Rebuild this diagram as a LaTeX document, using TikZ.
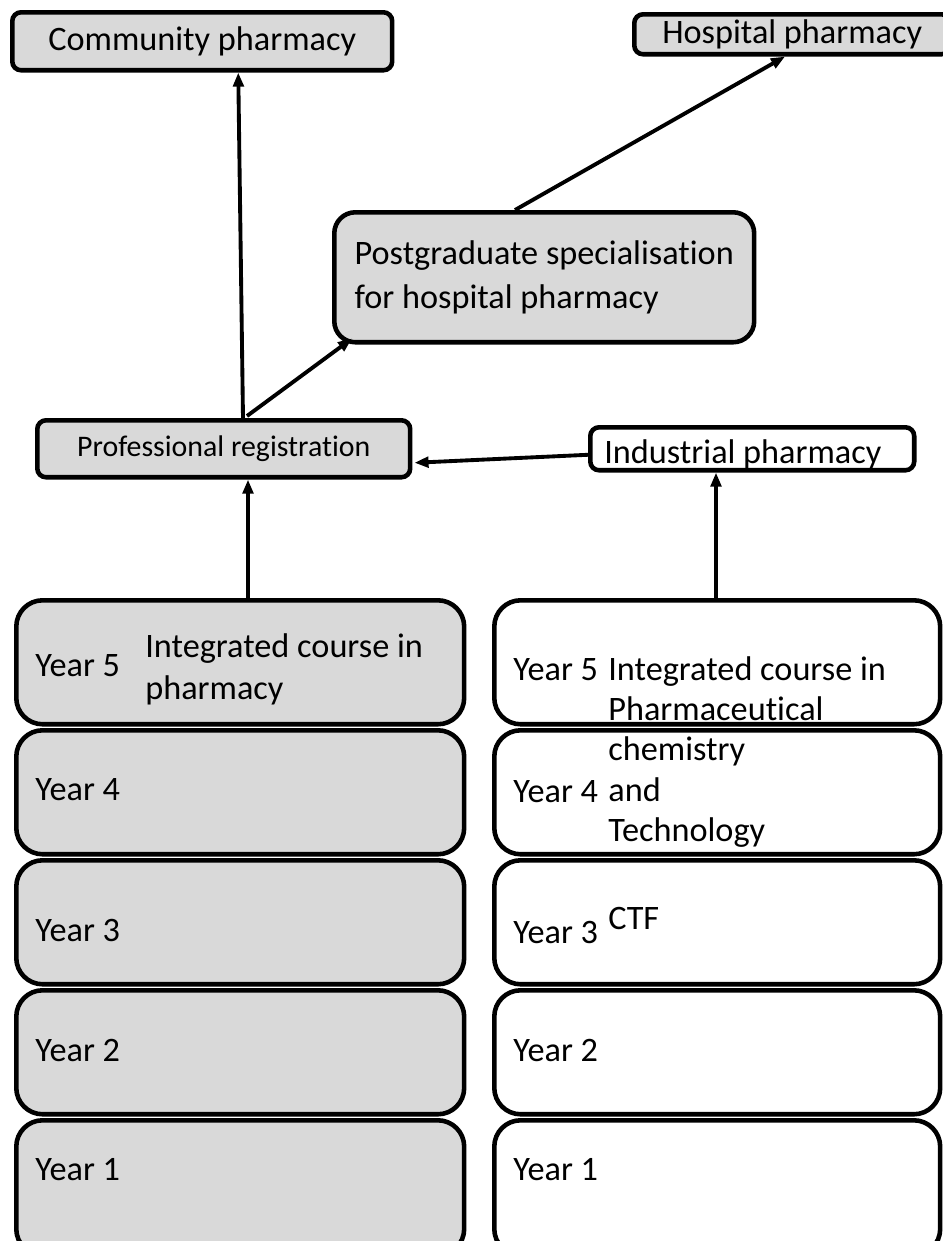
\documentclass[tikz,border=0pt]{standalone}
\usepackage{fontspec}
\setmainfont[RawFeature=-liga]{Carlito}
\usetikzlibrary{%
  positioning,
  calc,
  arrows.meta,
}

\begin{document}
\begin{tikzpicture}[%
           x=0.02cm, y=-0.02cm,
           font=\fontsize{19.5}{23.8}\selectfont,
           stage/.style={
             % The shape:
             rectangle,
             rounded corners=5pt,
             inner sep=0pt,
             anchor=north west,
             % The border:
             line width=2.6pt,
             draw=black,
             % The filling:
             fill=black!15,
           },
           year/.style={
             stage,
             rounded corners=15pt,
             minimum height=2.48cm,
           },
           plain/.style={
             fill=white,
           },
           label/.style={
             anchor=west,
             inner sep=0pt,
             align=left,
           },
           link/.style={
             ->,
             >={Triangle[length=8pt,width=6pt]},
             line width=2.2pt,
           }]
         \useasboundingbox[fill=white] (0,0) rectangle (943,1241);

         % careers and registration
         \node[stage, minimum width=7.6cm, minimum height=1.16cm] (comm) at (10,10) {Community pharmacy};
         \node[stage, minimum width=6.32cm, minimum height=0.8cm] (hosp) at (632,12) {Hospital pharmacy};
         \node[stage, rounded corners=12pt, minimum width=8.4cm, minimum height=2.6cm,
               align=left, font=\fontsize{19.5}{25.5}\selectfont] (pg) at (332,210)
               {Postgraduate specialisation\\for hospital pharmacy};
         \node[stage, minimum width=7.46cm, minimum height=1.14cm,
               font=\fontsize{17}{20}\selectfont] (reg) at (35,418) {Professional registration};
         \node[stage, plain, minimum width=6.48cm, minimum height=0.86cm] (ind) at (588,425) {};
         \node[label] (indtxt) at (604,454) {Industrial pharmacy};

         % pharmacy course
         \node[year, minimum width=8.96cm] (l5) at (14,598) {};
         \node[year, minimum width=8.96cm] (l4) at (14,728) {};
         \node[year, minimum width=8.96cm] (l3) at (14,858) {};
         \node[year, minimum width=8.96cm] (l2) at (14,988) {};
         \node[year, minimum width=8.96cm, minimum height=2.7cm] (l1) at (14,1118) {};
         \node[label] (l5txt) at (35,666) {Year 5};
         \node[label] (l4txt) at (35,790) {Year 4};
         \node[label] (l3txt) at (35,930) {Year 3};
         \node[label] (l2txt) at (35,1050) {Year 2};
         \node[label] (l1txt) at (35,1170) {Year 1};
         \node[label] (lcourse) at (145,669) {Integrated course in\\pharmacy};

         % CTF course
         \node[year, plain, minimum width=8.92cm] (r5) at (492,598) {};
         \node[year, plain, minimum width=8.92cm] (r4) at (492,728) {};
         \node[year, plain, minimum width=8.92cm] (r3) at (492,858) {};
         \node[year, plain, minimum width=8.92cm] (r2) at (492,988) {};
         \node[year, plain, minimum width=8.92cm, minimum height=2.7cm] (r1) at (492,1118) {};
         \node[label] (r5txt) at (513,670) {Year 5};
         \node[label] (r4txt) at (513,792) {Year 4};
         \node[label] (r3txt) at (513,932) {Year 3};
         \node[label] (r2txt) at (513,1050) {Year 2};
         \node[label] (r1txt) at (513,1170) {Year 1};
         \node[label, font=\fontsize{19.5}{23}\selectfont] (rcourse) at (608,752)
               {Integrated course in\\Pharmaceutical\\chemistry\\and\\Technology};
         \node[label] (ctf) at (608,918) {CTF};

         \draw[link] ($ (l5.north west) + (234,0) $) -- ($ (reg.south west) + (213,0) $);
         \draw[link] ($ (r5.north west) + (224,0) $) -- ($ (ind.south west) + (128,0) $);
         \draw[link] ($ (ind.west) + (0,6) $) -- ($ (reg.east) + (2,14) $);
         \draw[link] ($ (reg.north west) + (208,0) $) -- ($ (comm.south) + (36,0) $);
         \draw[link] ($ (reg.north west) + (212,-2) $) -- ($ (pg.south west) + (20,-6) $);
         \draw[link] ($ (pg.north west) + (183,0) $) -- ($ (hosp.south west) + (153,0) $);

     \end{tikzpicture}
\end{document}
